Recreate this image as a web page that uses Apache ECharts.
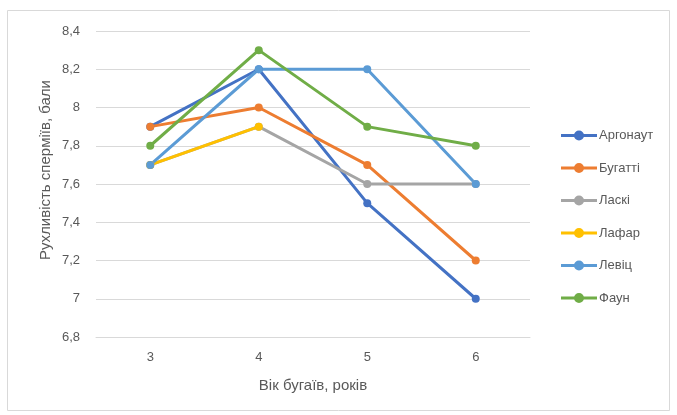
<!DOCTYPE html>
<html><head><meta charset="utf-8">
<script src="https://cdn.jsdelivr.net/npm/echarts@6/dist/echarts.min.js"></script>
<style>html,body{margin:0;padding:0;background:#fff}#c{width:677px;height:415px}</style>
</head><body><div id="c"></div>
<script>
const categories = ['3', '4', '5', '6'];
const seriesNames = ['Аргонаут', 'Бугатті', 'Ласкі', 'Лафар', 'Левіц', 'Фаун'];
const argonaut = [7.9, 8.2, 7.5, 7.0];
const buhatti = [7.9, 8.0, 7.7, 7.2];
const laski = [7.7, 7.9, 7.6, 7.6];
const lafar = [7.7, 7.9, null, null];
const levits = [7.7, 8.2, 8.2, 7.6];
const faun = [7.8, 8.3, 7.9, 7.8];
const xTitle = 'Вік бугаїв, років';
const yTitle = 'Рухливість сперміїв, бали';
const colors = ['#4472C4', '#ED7D31', '#A5A5A5', '#FFC000', '#5B9BD5', '#70AD47'];
const values = [argonaut, buhatti, laski, lafar, levits, faun];

const font = 'Liberation Sans, Arial, sans-serif';
const chart = echarts.init(document.getElementById('c'), null, {renderer: 'canvas'});
chart.setOption({
  animation: false,
  color: colors,
  textStyle: {fontFamily: font},
  graphic: [
    {type: 'rect', shape: {x: 7.5, y: 10.5, width: 662, height: 400}, style: {fill: 'none', stroke: '#d9d9d9', lineWidth: 1}, z: -10},
    {type: 'text', x: 46, y: 170, rotation: Math.PI / 2,
     style: {text: yTitle, fill: '#595959', font: '15px ' + font, align: 'center', verticalAlign: 'middle'}}
  ],
  grid: {left: 96, right: 147, top: 31, bottom: 78},
  legend: {
    orient: 'vertical', left: 556, top: 124, itemGap: 19.5, itemWidth: 36, itemHeight: 16,
    textStyle: {color: '#595959', fontSize: 13, fontFamily: font, padding: [0,0,0,-3]},
    data: seriesNames.map(n => ({name: n, icon: 'path://M0,7 L36,7 L36,10 L0,10 Z M18,3.5 A5,5 0 1,1 17.99,3.5 Z'}))
  },
  xAxis: {
    type: 'category', data: categories, boundaryGap: true,
    axisLine: {lineStyle: {color: '#d9d9d9'}}, axisTick: {show: false},
    axisLabel: {color: '#595959', fontSize: 13, margin: 14, fontFamily: font},
    name: xTitle, nameLocation: 'middle', nameGap: 41,
    nameTextStyle: {color: '#595959', fontSize: 15, fontFamily: font}
  },
  yAxis: {
    type: 'value', min: 6.8, max: 8.4, interval: 0.2,
    axisLine: {show: false}, axisTick: {show: false},
    splitLine: {lineStyle: {color: '#d9d9d9', width: 1}},
    axisLabel: {color: '#595959', fontSize: 13, margin: 16, fontFamily: font,
      formatter: v => String(Math.round(v * 10) / 10).replace('.', ',')}
  },
  series: seriesNames.map((n, i) => ({
    name: n, type: 'line', data: values[i], symbol: 'circle', symbolSize: 8,
    lineStyle: {width: 3, color: colors[i]}, itemStyle: {color: colors[i]}
  }))
});
</script></body></html>
